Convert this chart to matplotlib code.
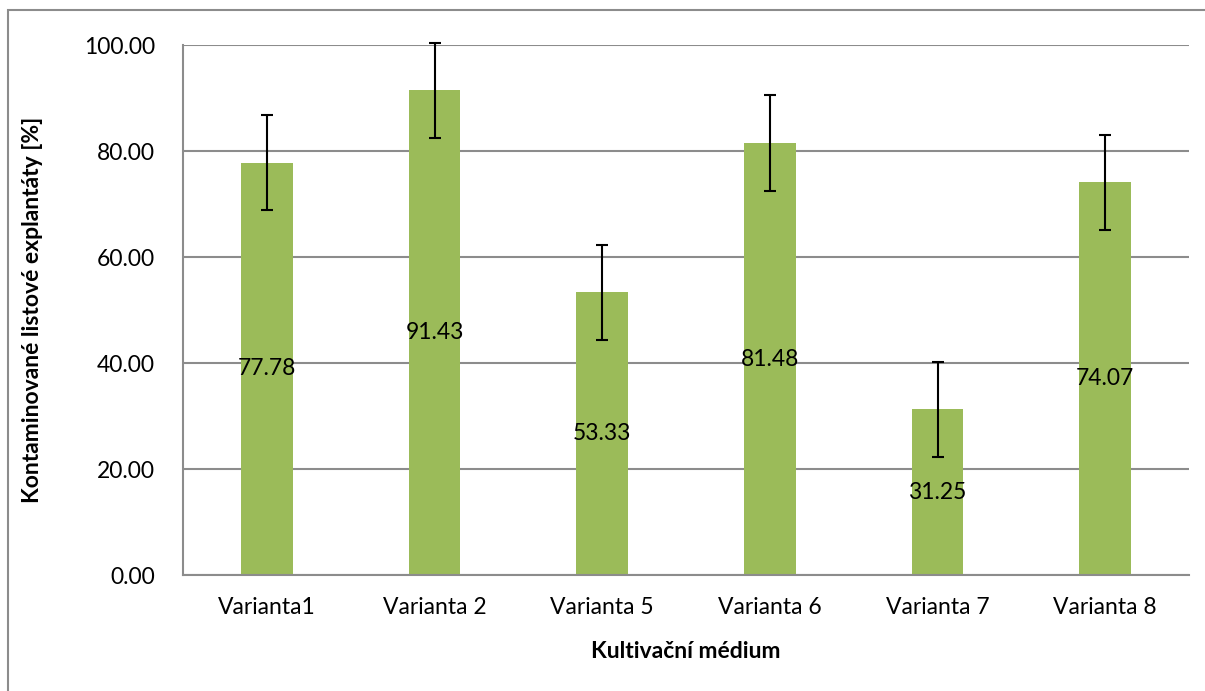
import matplotlib
matplotlib.use("Agg")
import matplotlib.pyplot as plt
from matplotlib.patches import Rectangle
import numpy as np

plt.rcParams["font.family"] = ["Lato", "DejaVu Sans"]

categories = ["Varianta1", "Varianta 2", "Varianta 5", "Varianta 6", "Varianta 7", "Varianta 8"]
values = [77.78, 91.43, 53.33, 81.48, 31.25, 74.07]
errors = [9.0, 9.0, 9.0, 9.0, 9.0, 9.0]
yticks = [0, 20, 40, 60, 80, 100]

fig = plt.figure(figsize=(12.05, 6.91), dpi=100)
ax = fig.add_axes([183 / 1205, 1 - 575 / 691, (1189 - 183) / 1205, (575 - 45) / 691])

x = np.arange(len(categories))
ax.bar(x, values, width=0.31, color="#9BBB59", zorder=2)
eb = ax.errorbar(x, values, yerr=errors, fmt="none", ecolor="black", elinewidth=1.5,
                 capsize=4.5, capthick=1.5, zorder=3)
# let the error bar of Varianta 2 reach above 100
for artist in eb.lines[1] + eb.lines[2]:
    artist.set_clip_on(False)

for xi, v in zip(x, values):
    ax.text(xi, v / 2, f"{v:.2f}", ha="center", va="center", fontsize=16.5, zorder=4)

ax.set_xlim(-0.5, len(categories) - 0.5)
ax.set_ylim(0, 100)
ax.set_yticks(yticks)
ax.set_yticklabels([f"{t:.2f}" for t in yticks], fontsize=16.5)
ax.set_xticks(x)
ax.set_xticklabels(categories, fontsize=16.5)
ax.tick_params(axis="y", length=0, pad=20)
ax.tick_params(axis="x", length=0, pad=16)

ax.yaxis.grid(True, color="#8c8c8c", linewidth=1.5, zorder=0)
ax.set_axisbelow(True)
for side in ["top", "right"]:
    ax.spines[side].set_visible(False)
for side in ["left", "bottom"]:
    ax.spines[side].set_color("#8c8c8c")
    ax.spines[side].set_linewidth(1.5)

ax.set_xlabel("Kultivační médium", fontsize=16.5, fontweight="bold", va="center")
ax.xaxis.set_label_coords(0.5, (575 - 652) / 530)
ax.set_ylabel("Kontaminované listové explantáty [%]", fontsize=16.5, fontweight="bold", va="center")
ax.yaxis.set_label_coords((33 - 183) / 1006, 0.5)

# chart border
fig.patches.append(Rectangle((8 / 1205, -0.1), 1.1, 1.1 - 10 / 691, transform=fig.transFigure,
                             fill=False, edgecolor="#8c8c8c", linewidth=1.5))

fig.savefig("out.png", dpi=100)
